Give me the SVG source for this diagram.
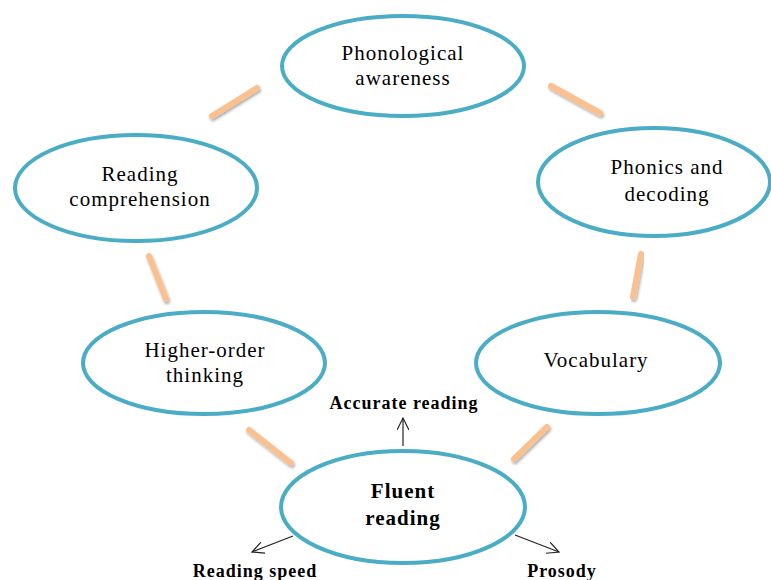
<svg xmlns="http://www.w3.org/2000/svg" width="771" height="580" viewBox="0 0 771 580">
<style>
.node{fill:#fff;stroke:#4bacc6;stroke-width:4}
text{font-family:"Liberation Serif","DejaVu Serif","Times New Roman",serif;fill:#000;text-anchor:middle}
.t{font-size:21px;letter-spacing:1px}
.b{font-weight:bold;font-size:18px;letter-spacing:1px}
.link{stroke:#fac090;stroke-width:6;stroke-linecap:round;filter:url(#sh)}
.arr{stroke:#222;stroke-width:1.2;fill:none;marker-end:url(#ah)}
</style>
<defs>
<filter id="sh" x="-30%" y="-30%" width="160%" height="160%">
<feGaussianBlur in="SourceAlpha" stdDeviation="1.5"/>
<feOffset dx="1" dy="2" result="o"/>
<feComponentTransfer><feFuncA type="linear" slope="0.35"/></feComponentTransfer>
<feMerge><feMergeNode/><feMergeNode in="SourceGraphic"/></feMerge>
</filter>
<marker id="ah" markerWidth="14" markerHeight="12" refX="12" refY="6" orient="auto" markerUnits="userSpaceOnUse">
<path d="M0,0 L12,6 L0,12" fill="none" stroke="#222" stroke-width="1.2"/>
</marker>
</defs>
<rect width="771" height="580" fill="#fff"/>
<g id="connectors">
<line class="link" x1="212" y1="116" x2="257" y2="88"/>
<line class="link" x1="551" y1="86" x2="600" y2="113"/>
<line class="link" x1="149" y1="256" x2="166" y2="299"/>
<line class="link" x1="641" y1="254" x2="633" y2="297"/>
<line class="link" x1="249" y1="430" x2="291" y2="463"/>
<line class="link" x1="514" y1="459" x2="547" y2="427"/>
<line class="arr" x1="403" y1="446" x2="403" y2="418"/>
<line class="arr" x1="293" y1="536" x2="252" y2="552"/>
<line class="arr" x1="515" y1="535" x2="559" y2="552"/>
</g>
<g id="phonological">
<ellipse class="node" cx="403" cy="66" rx="121" ry="50"/>
<text class="t" x="403" y="60">Phonological</text>
<text class="t" x="403" y="85">awareness</text>
</g>
<g id="comprehension">
<ellipse class="node" cx="136" cy="188" rx="121" ry="53"/>
<text class="t" x="140" y="181">Reading</text>
<text class="t" x="140" y="206">comprehension</text>
</g>
<g id="phonics">
<ellipse class="node" cx="654" cy="182" rx="116" ry="54"/>
<text class="t" x="667" y="174">Phonics and</text>
<text class="t" x="667" y="201">decoding</text>
</g>
<g id="higher">
<ellipse class="node" cx="204" cy="363" rx="121" ry="51"/>
<text class="t" x="205" y="357">Higher-order</text>
<text class="t" x="205" y="382">thinking</text>
</g>
<g id="vocabulary">
<ellipse class="node" cx="598" cy="363" rx="122" ry="51"/>
<text class="t" x="596" y="367">Vocabulary</text>
</g>
<g id="fluent">
<ellipse class="node" cx="403" cy="507" rx="122" ry="56"/>
<text class="b" x="403" y="498" style="font-size:21px">Fluent</text>
<text class="b" x="403" y="525" style="font-size:21px">reading</text>
</g>
<g id="labels">
<text class="b" x="404" y="409">Accurate reading</text>
<text class="b" x="255" y="577">Reading speed</text>
<text class="b" x="562" y="577">Prosody</text>
</g>
</svg>
